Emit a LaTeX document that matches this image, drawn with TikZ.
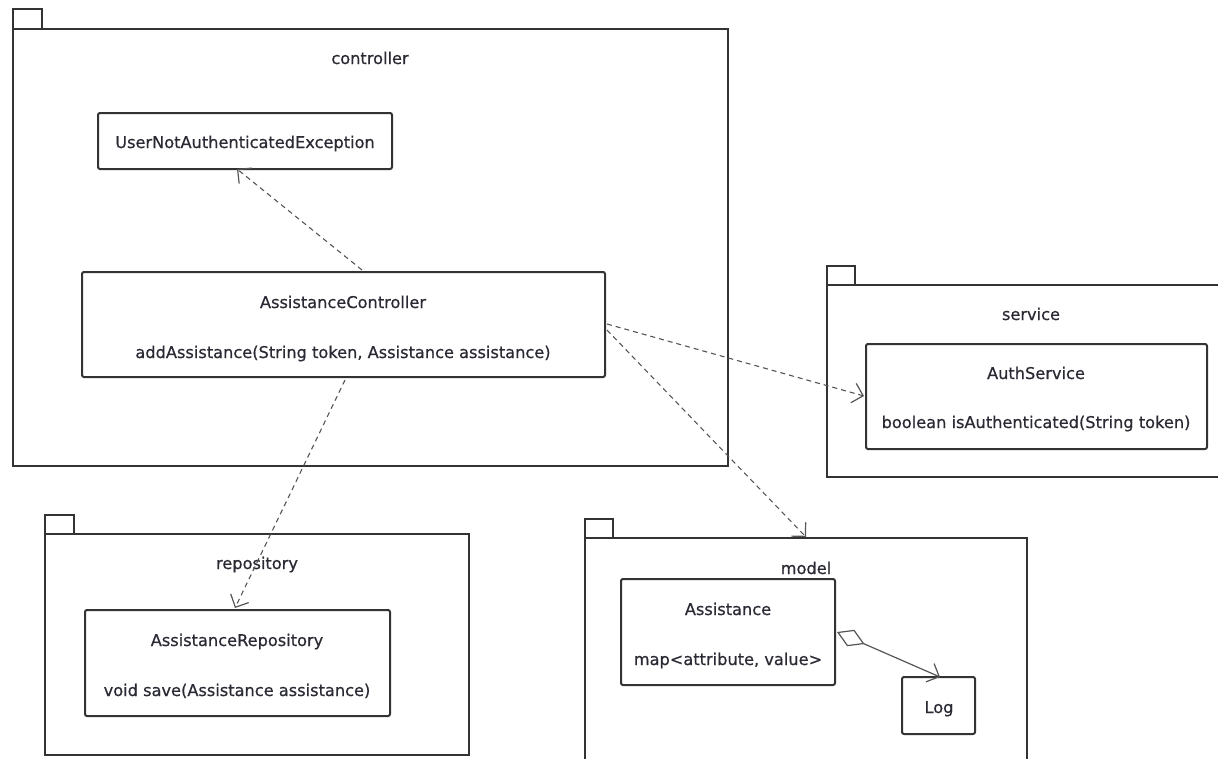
\documentclass[tikz,border=0pt]{standalone}
\usepackage{fontspec}
\setmainfont[FakeBold=0.6]{DejaVu Sans}
\usetikzlibrary{arrows.meta,shapes.geometric}
\definecolor{ink}{HTML}{333333}
\definecolor{txt}{HTML}{2A2A34}
\definecolor{dep}{HTML}{555555}
\begin{document}
\begin{tikzpicture}[x=1pt,y=-1pt,
  font=\fontsize{16.2}{19}\selectfont,
  pkg/.style={draw=ink,line width=2pt},
  cls/.style={draw=ink,line width=2pt,rounded corners=2pt},
  lbl/.style={text=txt,inner sep=0pt,anchor=base},
  depend/.style={draw=dep,line width=1.1pt,dash pattern=on 5pt off 4pt,
    -{Straight Barb[length=10pt,width=20pt,line width=1.2pt]}},
  aggr/.style={draw=dep,line width=1.2pt,
    {Diamond[open,length=30pt,width=18pt,line width=1.2pt]}-{Straight Barb[length=10pt,width=20pt,line width=1.2pt]}}
]
\useasboundingbox (0,0) rectangle (1218,758);
\clip (0,0) rectangle (1218,758);

% packages: tab + body
\draw[pkg] (13,29) |- (42,9) -- (42,29);
\draw[pkg] (13,29) rectangle (728,466);
\node[lbl] (pctl) at (370,64) {controller};

\draw[pkg] (827,285) |- (855,266) -- (855,285);
\draw[pkg] (827,285) rectangle (1240,477);
\node[lbl] (psvc) at (1031,320) {service};

\draw[pkg] (45,534) |- (74,515) -- (74,534);
\draw[pkg] (45,534) rectangle (469,755);
\node[lbl] (prepo) at (257,569) {repository};

\draw[pkg] (585,538) |- (613,519) -- (613,538);
\draw[pkg] (585,538) rectangle (1027,780);
\node[lbl] (pmodel) at (806,574) {model};

% classes
\draw[cls] (98,113) rectangle (392,169);
\node[lbl] (unae) at (245,148) {UserNotAuthenticatedException};
\coordinate (unaeB) at (237,169);

\draw[cls] (82,272) rectangle (605,377);
\node[lbl] (ctl) at (343,308) {AssistanceController};
\node[lbl] (ctlm) at (343,358) {addAssistance(String token, Assistance assistance)};
\coordinate (ctlT) at (362,270);
\coordinate (ctlR1) at (607,324);
\coordinate (ctlR2) at (607,330);
\coordinate (ctlB) at (345,380);

\draw[cls] (866,344) rectangle (1207,449);
\node[lbl] (auth) at (1036,379) {AuthService};
\node[lbl] (authm) at (1036,428) {boolean isAuthenticated(String token)};
\coordinate (authL) at (864,396);

\draw[cls] (85,610) rectangle (390,716);
\node[lbl] (repo) at (237,646) {AssistanceRepository};
\node[lbl] (repom) at (237,696) {void save(Assistance assistance)};
\coordinate (repoT) at (235,608);

\draw[cls] (621,579) rectangle (835,685);
\node[lbl] (asst) at (728,615) {Assistance};
\node[lbl] (asstm) at (728,665) {map<attribute, value>};
\coordinate (asstR) at (837,632);

\draw[cls] (902,677) rectangle (975,734);
\node[lbl] (log) at (939,713) {Log};
\coordinate (logT) at (940,677);

\coordinate (modelT) at (806,537);

% dependencies
\draw[depend] (ctlT) -- (unaeB);
\draw[depend] (ctlR1) -- (authL);
\draw[depend] (ctlR2) -- (modelT);
\draw[depend] (ctlB) -- (repoT);

% aggregation
\draw[aggr] (asstR) -- (logT);
\end{tikzpicture}
\end{document}
